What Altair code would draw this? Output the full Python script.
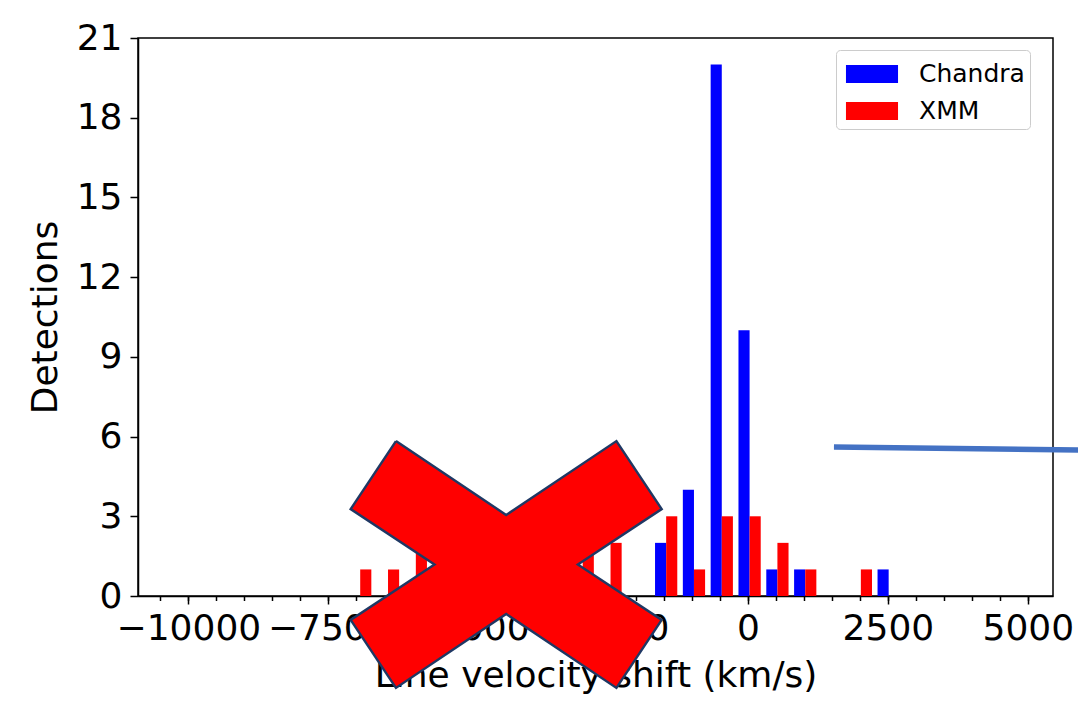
import altair as alt
import pandas as pd

# ---------------- data ----------------
bin_start = -10160      # km/s, left edge of the first histogram bin
bin_width = 497         # km/s
chandra_counts = [0] * 17 + [2, 4, 20, 10, 1, 1, 0, 0, 1] + [0] * 4
xmm_counts = [0, 0, 0, 0, 0, 0, 1, 1, 2, 1, 1, 1, 1, 1, 2, 2, 0, 3, 1, 3, 3, 2, 1, 0, 1, 0, 0, 0, 0, 0]
series_names = ["Chandra", "XMM"]
series_colors = ["#0000ff", "#ff0000"]

x_major_ticks = [-10000, -7500, -5000, -2500, 0, 2500, 5000]
x_minor_ticks = list(range(-10500, 5001, 500))
y_ticks = [0, 3, 6, 9, 12, 15, 18, 21]
x_domain = [-10900, 5450]
y_domain = [0, 21]

# overlay annotations, in data units (km/s, detections)
cross_x = [-6291, -4321, -2351, -1542, -3040, -1542, -2351, -4321, -6291, -7100, -5602, -7100, -6291]
cross_y = [5.83, 3.05, 5.83, 3.27, 1.19, -0.90, -3.46, -0.68, -3.46, -0.90, 1.19, 3.27, 5.83]
arrow_x = [1536, 6036]
arrow_y = [5.61, 5.49]

# ---------------- tables ----------------
rows = []
for k in range(len(chandra_counts)):
    for j, (name, counts) in enumerate(zip(series_names, [chandra_counts, xmm_counts])):
        c = counts[k]
        if c > 0:
            left = bin_start + k * bin_width + (0.1 + 0.4 * j) * bin_width
            rows.append({"series": name, "x": left, "x2": left + 0.4 * bin_width,
                         "count": c, "base": 0})
bars_df = pd.DataFrame(rows)
cross_df = pd.DataFrame({"i": list(range(len(cross_x))), "x": cross_x, "count": cross_y})
arrow_df = pd.DataFrame({"i": [0, 1], "x": arrow_x, "count": arrow_y})

xscale = alt.Scale(domain=x_domain, nice=False, zero=False)
yscale = alt.Scale(domain=y_domain, nice=False, zero=False)

bars = alt.Chart(bars_df).mark_bar().encode(
    x=alt.X("x:Q", scale=xscale,
            axis=alt.Axis(values=x_major_ticks, format="d", tickSize=8, labelPadding=7,
                          title="Line velocity shift (km/s)", titlePadding=12, orient="bottom")),
    x2="x2:Q",
    y=alt.Y("count:Q", scale=yscale,
            axis=alt.Axis(values=y_ticks, tickSize=8, labelPadding=8,
                          title="Detections", titlePadding=12, orient="left")),
    y2="base:Q",
    color=alt.Color("series:N",
                    scale=alt.Scale(domain=series_names, range=series_colors),
                    legend=alt.Legend(title=None)),
)

cross = alt.Chart(cross_df).mark_line(
    filled=True, fill="#ff0000", stroke="#1f3864", strokeWidth=2.4,
    strokeJoin="miter", clip=False,
).encode(
    x=alt.X("x:Q", scale=xscale, axis=None),
    y=alt.Y("count:Q", scale=yscale, axis=None),
    order="i:Q",
)

arrow = alt.Chart(arrow_df).mark_line(
    color="#4472c4", strokeWidth=5.5, strokeCap="butt", clip=False,
).encode(
    x=alt.X("x:Q", scale=xscale,
            axis=alt.Axis(values=x_minor_ticks, labels=False, domain=False, tickSize=4.5,
                          title=None, orient="bottom")),
    y=alt.Y("count:Q", scale=yscale, axis=None),
    order="i:Q",
)

chart = alt.layer(bars, cross, arrow).resolve_axis(x="independent", y="independent").properties(
    width=915, height=558,
    autosize=alt.AutoSizeParams(type="none"),
    padding={"left": 130, "top": 30, "right": 25, "bottom": 107},
    background="white",
).configure_view(
    stroke="black", strokeWidth=1.5,
).configure_axis(
    domainColor="black", domainWidth=1.5, tickColor="black", tickWidth=1.5,
    labelFont="DejaVu Sans", labelFontSize=36, labelColor="black",
    titleFont="DejaVu Sans", titleFontSize=36, titleFontWeight="normal", titleColor="black",
    grid=False,
).configure_legend(
    orient="none", legendX=698, legendY=12,
    fillColor="white", strokeColor="#cccccc", cornerRadius=4, padding=5,
    labelFont="DejaVu Sans", labelFontSize=25, labelColor="black",
    symbolType="M-1.37,-0.47H1.37V0.47H-1.37Z", symbolSize=1444, symbolStrokeWidth=0,
    symbolOffset=12, labelOffset=28, rowPadding=5,
)

chart.save("out.html", embed_options={"renderer": "svg", "actions": False})
